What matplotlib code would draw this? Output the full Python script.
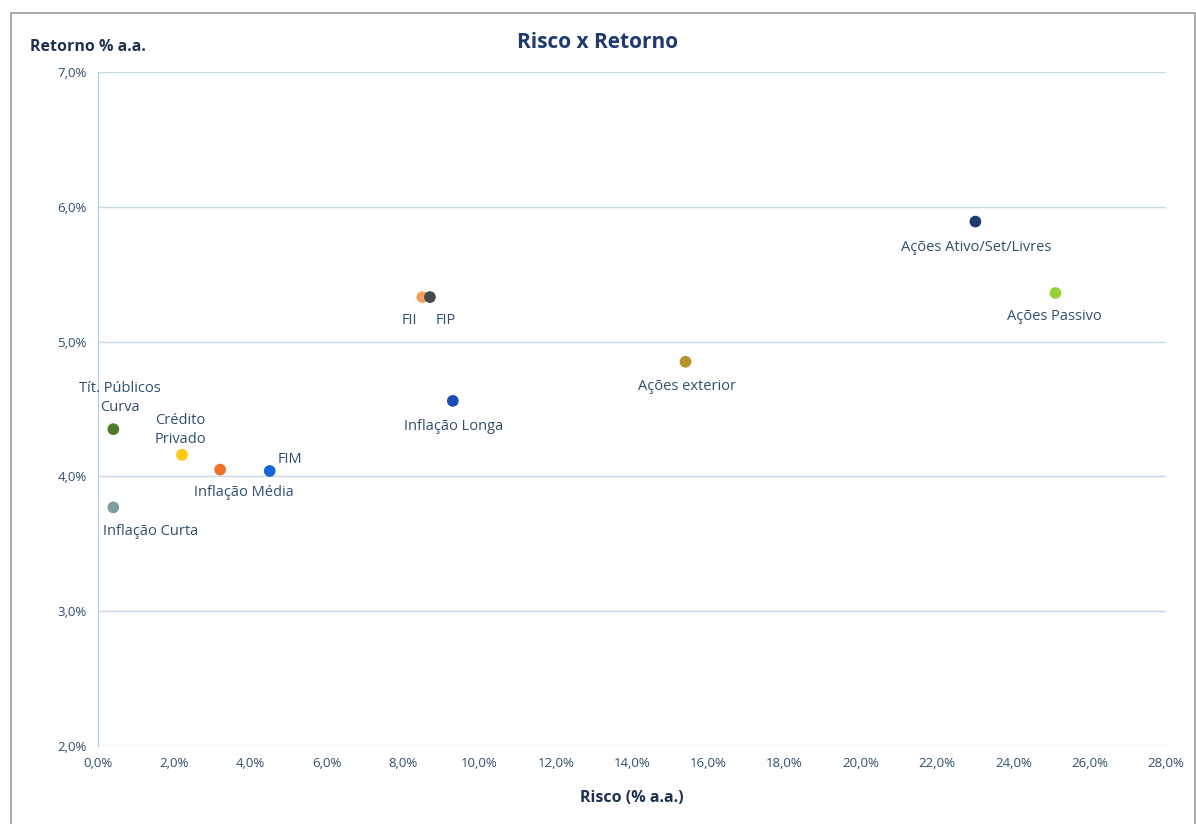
import matplotlib.pyplot as plt
from matplotlib.ticker import FuncFormatter
from matplotlib.patches import Rectangle

plt.rcParams['font.family'] = ['Open Sans', 'DejaVu Sans']

# classes de ativos
nomes = ["Tít. Públicos\nCurva", "Inflação Curta", "Crédito\nPrivado", "Inflação Média", "FIM",
         "FII", "FIP", "Inflação Longa", "Ações exterior", "Ações Ativo/Set/Livres", "Ações Passivo"]
risco = [0.4, 0.4, 2.2, 3.2, 4.5, 8.5, 8.7, 9.3, 15.4, 23.0, 25.1]
retorno = [4.35, 3.77, 4.16, 4.05, 4.04, 5.33, 5.33, 4.56, 4.85, 5.89, 5.36]
cores = ["#4f7a28", "#7f9c9c", "#ffc90e", "#f0702a", "#1565d8", "#f7a05a", "#414b4b",
         "#1b4fb8", "#b8922e", "#1f3a6e", "#98d03a"]

# posição dos rótulos (pixels) e alinhamento
desloc = [(7, 14), (-10, -17), (-2, 8), (24, -15), (8, 11), (-13, -16), (16, -16),
          (1, -18), (2, -17), (1, -18), (-1, -16)]
alin = [("center", "bottom"), ("left", "top"), ("center", "bottom"), ("center", "top"),
        ("left", "center"), ("center", "top"), ("center", "top"), ("center", "top"),
        ("center", "top"), ("center", "top"), ("center", "top")]

cor_texto = "#2f4f6f"

fig = plt.figure(figsize=(11.96, 8.24), dpi=100)
ax = fig.add_axes([0.082, 0.0947, 0.893, 0.818])

ax.scatter(risco, retorno, s=55, c=cores, zorder=3)
for n, x, y, d, a in zip(nomes, risco, retorno, desloc, alin):
    ax.annotate(n, (x, y), xytext=d, textcoords="offset pixels", ha=a[0], va=a[1],
                fontsize=10.5, color=cor_texto, linespacing=1.35)

ax.set_xlim(0, 28)
ax.set_ylim(2, 7)
ax.set_xticks(range(0, 29, 2))
ax.set_yticks(range(2, 8))
fmt = FuncFormatter(lambda v, p: f"{v:.1f}%".replace(".", ","))
ax.xaxis.set_major_formatter(fmt)
ax.yaxis.set_major_formatter(fmt)
ax.tick_params(length=0, labelsize=9.5, labelcolor=cor_texto, pad=8)
ax.grid(axis="y", color="#c8d8e4", linewidth=1)
for s in ["top", "right", "bottom"]:
    ax.spines[s].set_visible(False)
ax.spines["left"].set_color("#a8cde0")
ax.set_axisbelow(True)

ax.set_xlabel("Risco (% a.a.)", fontsize=11.5, fontweight="bold", color="#1f3050", labelpad=14)
fig.text(0.5, 0.942, "Risco x Retorno", ha="center", fontsize=15, fontweight="bold", color="#1f3a6e")
fig.text(0.025, 0.938, "Retorno % a.a.", ha="left", fontsize=11.5, fontweight="bold", color="#1f3050")

fig.patches.append(Rectangle((0.009, -0.01), 0.99, 0.994, transform=fig.transFigure,
                             fill=False, edgecolor="#999999", linewidth=1.2))

fig.savefig("out.png", dpi=100)
